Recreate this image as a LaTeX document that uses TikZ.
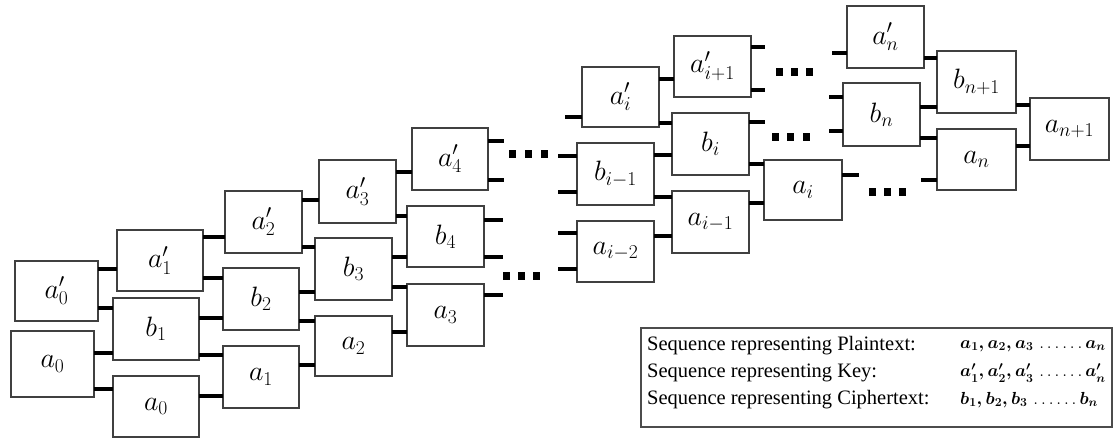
\RequirePackage{fix-cm}
\documentclass[tikz,border=0pt]{standalone}
\usepackage{fontspec}
\setmainfont{Liberation Serif}
\usepackage{amsmath}
\begin{document}
\begin{tikzpicture}[x=1pt,y=-1pt,
  bx/.style={draw=black!75, line width=1.3pt, fill=white, inner sep=0pt, outer sep=0pt,
             font=\fontsize{28}{32}\selectfont},
  wire/.style={line width=3.2pt, line cap=butt},
  lbl/.style={anchor=west, inner sep=0pt, font=\fontsize{20.5}{24}\selectfont},
  seq/.style={anchor=west, inner sep=0pt, font=\fontsize{17.5}{20}\selectfont},
  dotsq/.style={fill=black}]
\useasboundingbox[fill=white] (0,0) rectangle (1114,438);
\newcommand\mkbox[6]{\node[bx, minimum width=#4pt, minimum height=#5pt] (#1) at (#2,#3) {$#6$};}
\newcommand\wireto[3]{\draw[wire] (#1.east |- 0,#3) -- (#2.west |- 0,#3);}
\newcommand\stubR[3]{\draw[wire] (#1.east |- 0,#2) -- ++(#3,0);}
\newcommand\stubL[3]{\draw[wire] (#1.west |- 0,#2) -- ++(-#3,0);}
\newcommand\dotrow[4]{\foreach \xx in {#1,#2,#3}{\fill[dotsq] (\xx-3.5,#4-4) rectangle (\xx+3.5,#4+4);}}

% boxes
\mkbox{A0p}{56.5}{291}{83}{60}{a_0'}
\mkbox{A0}{52.5}{364}{83}{66}{a_0}
\mkbox{A1p}{160}{260.5}{86}{61}{a_1'}
\mkbox{B1}{156}{329}{86}{62}{b_1}
\mkbox{A0b}{156}{406.5}{86}{61}{a_0}
\mkbox{A2p}{263.5}{222}{77}{62}{a_2'}
\mkbox{B2}{261}{299}{76}{62}{b_2}
\mkbox{A1}{261}{377}{76}{62}{a_1}
\mkbox{A3p}{357.5}{191.5}{77}{63}{a_3'}
\mkbox{B3}{353.5}{269}{77}{62}{b_3}
\mkbox{A2}{353.5}{346}{77}{60}{a_2}
\mkbox{A4p}{450}{159}{76}{62}{a_4'}
\mkbox{B4}{445.5}{236.5}{77}{61}{b_4}
\mkbox{A3}{445.5}{315}{77}{62}{a_3}
\mkbox{Aip}{620.5}{97}{77}{60}{a_i'}
\mkbox{Bim}{615.5}{174}{77}{62}{b_{i-1}}
\mkbox{Aimm}{615.5}{251.5}{77}{61}{a_{i-2}}
\mkbox{Aipp}{712.5}{66.5}{77}{61}{a_{i+1}'}
\mkbox{Bi}{710.5}{144}{77}{62}{b_i}
\mkbox{Aim}{710.5}{222}{77}{62}{a_{i-1}}
\mkbox{Ai}{803}{190}{78}{60}{a_i}
\mkbox{Anp}{885.5}{37}{77}{62}{a_n'}
\mkbox{Bn}{881.5}{114.5}{77}{63}{b_n}
\mkbox{Bnn}{976.5}{82}{79}{62}{b_{n+1}}
\mkbox{An}{976.5}{159.5}{79}{61}{a_n}
\mkbox{Ann}{1069.5}{129}{79}{62}{a_{n+1}}

% connectors
\wireto{A0p}{A1p}{269}
\wireto{A0p}{B1}{308}
\wireto{A0}{B1}{353}
\wireto{A0}{A0b}{389}
\wireto{A1p}{A2p}{237}
\wireto{A1p}{B2}{278}
\wireto{B1}{B2}{318}
\wireto{B1}{A1}{355}
\wireto{A0b}{A1}{396}
\wireto{A2p}{A3p}{200}
\wireto{A2p}{B3}{247}
\wireto{B2}{B3}{292}
\wireto{B2}{A2}{321}
\wireto{A1}{A2}{365}
\wireto{A3p}{A4p}{172}
\wireto{A3p}{B4}{216}
\wireto{B3}{B4}{257}
\wireto{B3}{A3}{287}
\wireto{A2}{A3}{332}
\stubR{A4p}{141}{16}
\stubR{A4p}{180}{16}
\stubR{B4}{220}{19}
\stubR{B4}{257}{19}
\stubR{A3}{295}{19}

\stubL{Aip}{117}{17}
\stubL{Bim}{156}{19}
\stubL{Bim}{192}{19}
\stubL{Aimm}{233}{19}
\stubL{Aimm}{269}{19}
\wireto{Aip}{Aipp}{79}
\wireto{Aip}{Bi}{123}
\wireto{Bim}{Bi}{155}
\wireto{Bim}{Aim}{197}
\wireto{Aimm}{Aim}{236}
\wireto{Bi}{Ai}{164}
\wireto{Aim}{Ai}{203}
\stubR{Aipp}{47}{14}
\stubR{Aipp}{90}{14}
\stubR{Bi}{122}{16}
\stubR{Ai}{175}{17}

\stubL{Anp}{53}{15}
\stubL{Bn}{97}{14}
\stubL{Bn}{131}{14}
\stubL{An}{180}{16}
\wireto{Anp}{Bnn}{58}
\wireto{Bn}{Bnn}{107}
\wireto{Bn}{An}{138}
\wireto{Bnn}{Ann}{105}
\wireto{An}{Ann}{146}

% ellipsis dots
\dotrow{512}{528}{544}{154}
\dotrow{506}{521}{536}{276}
\dotrow{779}{794}{809}{72}
\dotrow{775}{790}{806}{137}
\dotrow{872}{887}{902}{192}

% legend
\node[draw=black!70, line width=1.5pt, minimum width=471pt, minimum height=99pt,
      inner sep=0pt, outer sep=0pt, anchor=north west] (leg) at (641,328) {};
\node[lbl] (l1) at (647,346) {Sequence representing Plaintext:};
\node[lbl] (l2) at (647,373) {Sequence representing Key:};
\node[lbl] (l3) at (647,400) {Sequence representing Ciphertext:};
\node[seq] (s1) at (960,346) {$\boldsymbol{a_1,a_2,a_3}\,\ldots\ldots\boldsymbol{a_n}$};
\node[seq] (s2) at (960,373) {$\boldsymbol{a_1',a_2',a_3'}\,\ldots\ldots\boldsymbol{a_n'}$};
\node[seq] (s3) at (960,400) {$\boldsymbol{b_1,b_2,b_3}\,\ldots\ldots\boldsymbol{b_n}$};
\end{tikzpicture}
\end{document}
